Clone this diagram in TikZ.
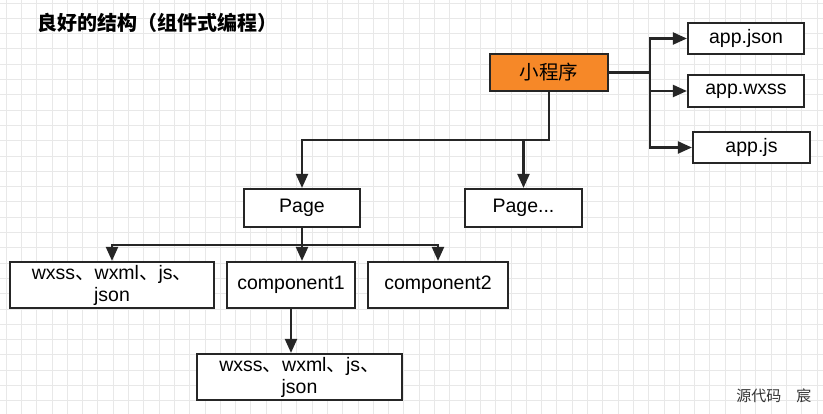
\documentclass[tikz,border=0pt]{standalone}
\usepackage{fontspec}
\setmainfont{Liberation Sans}
\newfontfamily\cjk{Noto Sans CJK SC}
\usetikzlibrary{arrows.meta}

\definecolor{progorange}{RGB}{246,136,40}
\definecolor{gridgray}{RGB}{232,232,232}

\tikzset{
	box/.style={draw=black!85, line width=2.2pt, fill=white, inner sep=0pt,
		align=center, font=\fontsize{19.5}{22}\selectfont},
	arr/.style={draw=black!85, line width=2.2pt, -{Triangle[length=14pt,width=12pt]}},
	link/.style={draw=black!85, line width=2.2pt}
}

\begin{document}
\begin{tikzpicture}[x=1pt, y=-1pt]
	\useasboundingbox (0,0) rectangle (823,414);
	\fill[white] (0,0) rectangle (823,414);
	\draw[gridgray, line width=0.8pt, shift={(6,3)}] (-6,-3) grid[step=15.3pt] (823,414);

	\node[anchor=west, font=\cjk\bfseries\fontsize{20}{23}\selectfont] (title) at (34,23) {良好的结构（组件式编程）};

	\node[box, fill=progorange, minimum width=118pt, minimum height=37pt] (prog) at (549,72.5) {\cjk 小程序};
	\node[box, minimum width=116pt, minimum height=31pt] (json) at (746,38.5) {app.json};
	\node[box, minimum width=116pt, minimum height=32pt] (wxss) at (746,91) {app.wxss};
	\node[box, minimum width=117pt, minimum height=31pt] (js) at (751.5,147.5) {app.js};

	\node[box, minimum width=116pt, minimum height=38pt] (page) at (302,208) {Page};
	\node[box, minimum width=117pt, minimum height=38pt] (pages) at (523.5,208) {Page...};

	\node[box, minimum width=204pt, minimum height=46pt] (res1) at (112,285) {wxss{\cjk 、}wxml{\cjk 、}js{\cjk 、}\\json};
	\node[box, minimum width=128pt, minimum height=46pt] (comp1) at (291,285) {component1};
	\node[box, minimum width=140pt, minimum height=46pt] (comp2) at (438,285) {component2};
	\node[box, minimum width=205pt, minimum height=46pt] (res2) at (299.5,377) {wxss{\cjk 、}wxml{\cjk 、}js{\cjk 、}\\json};

	\node[anchor=east, text=black!80, font=\cjk\fontsize{15}{18}\selectfont] (mark) at (815,396) {源代码\hspace{1em}宸};

	% app files
	\coordinate (fork) at (650,72.5);
	\draw[link] (prog.east) -- (fork);
	\draw[arr] (fork) |- (json.west);
	\draw[arr] (fork) |- (wxss.west);
	\draw[arr] (fork) |- (js.west);

	% pages
	\coordinate (pj) at (549,140);
	\draw[arr] (prog.south) -- (pj) -| (page.north);
	\draw[arr] (pj) -| (pages.north);

	% components
	\coordinate (cj) at (302,245);
	\draw[arr] (page.south) -- (cj) -| (res1.north);
	\draw[arr] (cj) -- (cj |- comp1.north);
	\draw[arr] (cj) -| (comp2.north);
	\draw[arr] (comp1.south) -- (comp1.south |- res2.north);
\end{tikzpicture}
\end{document}
